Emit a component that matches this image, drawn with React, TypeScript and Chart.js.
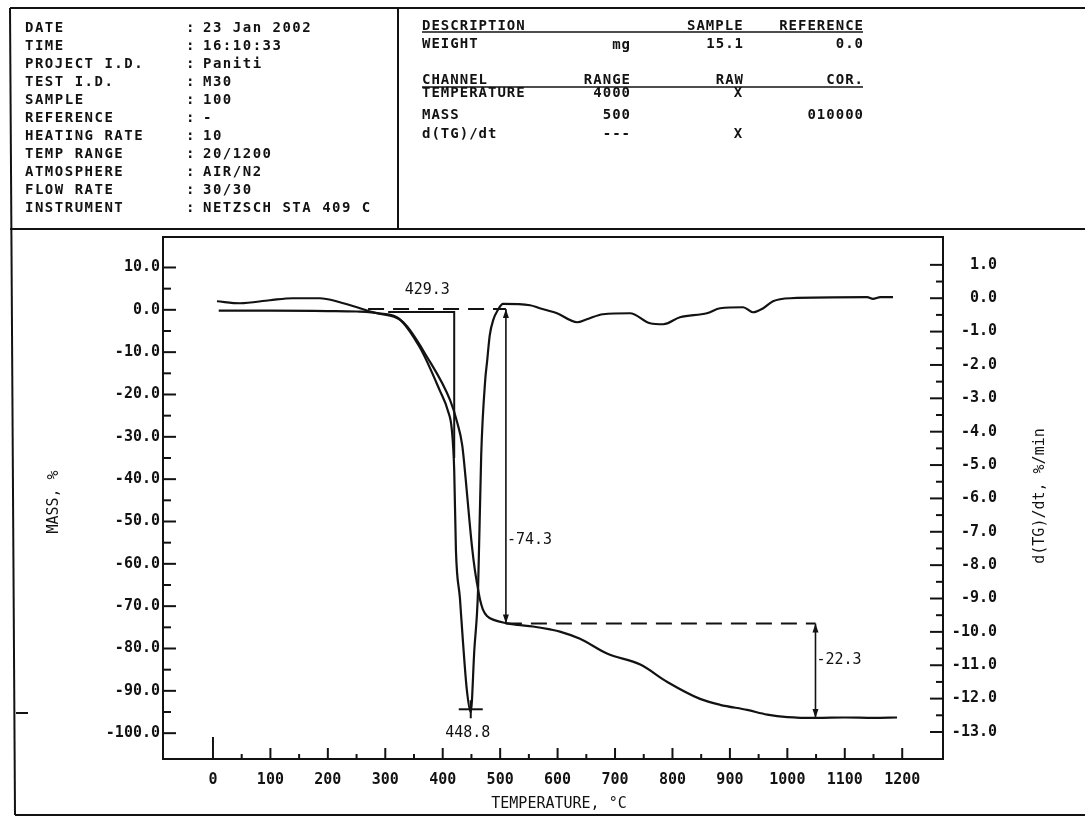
import React, { useEffect, useRef } from 'react';
import { Chart, registerables } from 'chart.js';

Chart.register(...registerables);

const W = 1085;
const H = 816;
const INK = '#121212';
const MONO = '"DejaVu Sans Mono", "Liberation Mono", monospace';

// ---- header texts ----
const infoLabels = ['DATE', 'TIME', 'PROJECT I.D.', 'TEST I.D.', 'SAMPLE', 'REFERENCE', 'HEATING RATE', 'TEMP RANGE', 'ATMOSPHERE', 'FLOW RATE', 'INSTRUMENT'];
const infoValues = ['23 Jan 2002', '16:10:33', 'Paniti', 'M30', '100', '-', '10', '20/1200', 'AIR/N2', '30/30', 'NETZSCH STA 409 C'];
const descHeader = ['DESCRIPTION', 'SAMPLE', 'REFERENCE'];
const weightRow = ['WEIGHT', 'mg', '15.1', '0.0'];
const channelHeader = ['CHANNEL', 'RANGE', 'RAW', 'COR.'];
const channelNames = ['TEMPERATURE', 'MASS', 'd(TG)/dt'];
const channelRanges = ['4000', '500', '---'];
const channelRaw = ['X', '', 'X'];
const channelCor = ['', '010000', ''];

// ---- axes ----
const tempTicks = [0, 100, 200, 300, 400, 500, 600, 700, 800, 900, 1000, 1100, 1200];
const tempMinorTicks = [50, 150, 250, 350, 450, 550, 650, 750, 850, 950, 1050, 1150];
const massTicks = [10, 0, -10, -20, -30, -40, -50, -60, -70, -80, -90, -100];
const massMinorTicks = [5, -5, -15, -25, -35, -45, -55, -65, -75, -85, -95];
const rateTicks = [1, 0, -1, -2, -3, -4, -5, -6, -7, -8, -9, -10, -11, -12, -13];
const rateMinorTicks = [0.5, -0.5, -1.5, -2.5, -3.5, -4.5, -5.5, -6.5, -7.5, -8.5, -9.5, -10.5, -11.5, -12.5];

// ---- series ----
const massTemps = [10, 100, 200, 250, 290, 331, 373, 413, 425, 434, 440, 446, 451, 456, 460, 465, 470, 477, 490, 510, 530, 557, 587, 604, 639, 686, 744, 791, 848, 883, 930, 965, 1000, 1052, 1100, 1150, 1191];
const massValues = [-0.2, -0.2, -0.3, -0.4, -0.9, -2.9, -11.2, -21.4, -26.5, -32.0, -40.0, -49.0, -56.0, -61.5, -64.8, -68.5, -70.8, -72.3, -73.3, -74.0, -74.4, -74.8, -75.5, -76.0, -77.7, -81.2, -83.8, -87.9, -91.9, -93.3, -94.5, -95.6, -96.2, -96.4, -96.3, -96.4, -96.3];

const dtgTemps = [7, 47, 99, 139, 186, 221, 256, 286, 320, 360, 395, 409, 416, 420, 423, 430, 435, 442, 448.8, 455, 461.5, 467, 474, 477, 482, 488, 496, 505, 552, 569, 599, 634, 651, 679, 726, 761, 784, 813, 860, 883, 923, 940, 958, 975, 1005, 1139, 1149, 1162, 1184];
const dtgValues = [-0.09, -0.15, -0.06, 0, 0, -0.12, -0.3, -0.45, -0.57, -1.47, -2.77, -3.37, -3.96, -5.15, -7.55, -9.0, -10.24, -11.74, -12.41, -10.55, -8.75, -4.7, -2.45, -1.94, -1.1, -0.65, -0.35, -0.17, -0.21, -0.3, -0.45, -0.72, -0.63, -0.48, -0.45, -0.75, -0.78, -0.57, -0.45, -0.3, -0.27, -0.42, -0.3, -0.09, 0.0, 0.03, -0.02, 0.03, 0.03];

// ---- evaluation marks ----
const onsetMarkTemps = [305, 420, 420];
const onsetMarkMass = [-0.5, -0.5, -35];
const onsetLabel = '429.3';
const peakTemp = 448.8;
const peakRate = -12.41;
const startLevel = 0.2;
const plateauLevel = -74.1;
const endLevel = -96.4;
const baseDashStart = 270;
const step1Temp = 510;
const step2Temp = 1049;
const step1Value = 74.3;
const step2Value = 22.3;

const pts = (xs: number[], ys: number[]) => xs.map((x, i) => ({ x, y: ys[i] }));

const plotPlugin = {
  id: 'staDecor',
  beforeDraw(chart: any) {
    const ctx = chart.ctx as CanvasRenderingContext2D;
    ctx.save();
    ctx.fillStyle = '#fff';
    ctx.fillRect(0, 0, W, H);
    ctx.strokeStyle = INK;
    const seg = (x1: number, y1: number, x2: number, y2: number) => {
      ctx.beginPath();
      ctx.moveTo(x1, y1);
      ctx.lineTo(x2, y2);
      ctx.stroke();
    };
    ctx.lineWidth = 2;
    seg(10, 8, W, 8);
    seg(10, 8, 15, 815);
    seg(10, 229, W, 229);
    seg(398, 8, 398, 229);
    seg(15, 815, W, 815);
    seg(16, 713, 28, 713);
    ctx.lineWidth = 1.6;
    seg(422, 32, 863, 32);
    seg(422, 87, 863, 87);
    ctx.restore();
  },
  afterDraw(chart: any) {
    const ctx = chart.ctx as CanvasRenderingContext2D;
    const xs = chart.scales.x;
    const ys = chart.scales.y;
    const rs = chart.scales.y1;
    const { left, right, top, bottom } = chart.chartArea;
    ctx.save();
    ctx.strokeStyle = INK;
    ctx.fillStyle = INK;
    ctx.lineWidth = 2;
    const seg = (x1: number, y1: number, x2: number, y2: number) => {
      ctx.beginPath();
      ctx.moveTo(x1, y1);
      ctx.lineTo(x2, y2);
      ctx.stroke();
    };
    ctx.strokeRect(left, top, right - left, bottom - top);

    // inward ticks
    for (const v of massTicks) { const p = ys.getPixelForValue(v); seg(left, p, left + 13, p); }
    for (const v of massMinorTicks) { const p = ys.getPixelForValue(v); seg(left, p, left + 8, p); }
    for (const v of rateTicks) { const p = rs.getPixelForValue(v); seg(right, p, right - 13, p); }
    for (const v of rateMinorTicks) { const p = rs.getPixelForValue(v); seg(right, p, right - 7, p); }
    for (const v of tempTicks) { const p = xs.getPixelForValue(v); seg(p, bottom, p, bottom - (v === 0 ? 22 : 11)); }
    for (const v of tempMinorTicks) { const p = xs.getPixelForValue(v); seg(p, bottom, p, bottom - 5); }

    // arrow heads
    const head = (x: number, y: number, dir: number) => {
      ctx.beginPath();
      ctx.moveTo(x, y);
      ctx.lineTo(x - 3, y - dir * 9);
      ctx.lineTo(x + 3, y - dir * 9);
      ctx.closePath();
      ctx.fill();
    };
    const a1 = xs.getPixelForValue(step1Temp);
    const a2 = xs.getPixelForValue(step2Temp);
    head(a1, ys.getPixelForValue(startLevel), -1);
    head(a1, ys.getPixelForValue(plateauLevel), 1);
    head(a2, ys.getPixelForValue(plateauLevel), -1);
    head(a2, ys.getPixelForValue(endLevel), 1);

    // peak cross
    const px = xs.getPixelForValue(peakTemp);
    const py = rs.getPixelForValue(peakRate);
    seg(px - 12, py - 3, px + 12, py - 3);
    seg(px, py - 12, px, py + 6);

    // annotation texts
    ctx.font = `15px ${MONO}`;
    ctx.textBaseline = 'middle';
    ctx.textAlign = 'center';
    ctx.fillText(onsetLabel, xs.getPixelForValue(373), ys.getPixelForValue(4.7));
    ctx.fillText(peakTemp.toFixed(1), px - 3, py + 21);
    ctx.textAlign = 'left';
    ctx.fillText('-' + step1Value.toFixed(1), a1 + 1, ys.getPixelForValue(-54.4));
    ctx.fillText('-' + step2Value.toFixed(1), a2 + 1, ys.getPixelForValue(-82.8));

    // axis titles
    ctx.textAlign = 'center';
    ctx.fillText('TEMPERATURE, °C', 559, 804);
    ctx.save();
    ctx.translate(54, 502);
    ctx.rotate(-Math.PI / 2);
    ctx.fillText('MASS, %', 0, 0);
    ctx.restore();
    ctx.save();
    ctx.translate(1040, 496);
    ctx.rotate(-Math.PI / 2);
    ctx.fillText('d(TG)/dt, %/min', 0, 0);
    ctx.restore();

    ctx.restore();
  },
};

const tickFont = { family: MONO, size: 15, weight: 'bold' as const };

function HText(props: { x: number; y: number; text: string; align?: 'left' | 'right' | 'center'; spacing?: number }) {
  const { x, y, text, align = 'left', spacing = 1.5 } = props;
  const style: React.CSSProperties = {
    position: 'absolute',
    top: y - 8,
    lineHeight: '16px',
    fontFamily: MONO,
    fontWeight: 'bold',
    fontSize: 14,
    letterSpacing: spacing,
    whiteSpace: 'pre',
    color: INK,
  };
  if (align === 'left') style.left = x;
  else if (align === 'right') style.right = W - x;
  else { style.left = x; style.transform = 'translateX(-50%)'; }
  return <div style={style}>{text}</div>;
}

export default function App() {
  const ref = useRef<HTMLCanvasElement | null>(null);

  useEffect(() => {
    if (!ref.current) return;
    const grid = { display: false, drawTicks: false, tickLength: 0 };
    const chart = new Chart(ref.current, {
      type: 'line',
      data: {
        datasets: [
          { label: 'MASS', data: pts(massTemps, massValues), yAxisID: 'y', borderColor: INK, borderWidth: 2.2, pointRadius: 0, cubicInterpolationMode: 'monotone' },
          { label: 'd(TG)/dt', data: pts(dtgTemps, dtgValues), yAxisID: 'y1', borderColor: INK, borderWidth: 2.2, pointRadius: 0, cubicInterpolationMode: 'monotone' },
          { label: 'onset', data: pts(onsetMarkTemps, onsetMarkMass), yAxisID: 'y', borderColor: INK, borderWidth: 2, pointRadius: 0, tension: 0 },
          { label: 'base', data: pts([baseDashStart, step1Temp], [startLevel, startLevel]), yAxisID: 'y', borderColor: INK, borderWidth: 2, borderDash: [16, 9], pointRadius: 0 },
          { label: 'plateau', data: pts([step1Temp, step2Temp], [plateauLevel, plateauLevel]), yAxisID: 'y', borderColor: INK, borderWidth: 2, borderDash: [16, 9], pointRadius: 0 },
          { label: 'step1', data: pts([step1Temp, step1Temp], [startLevel, plateauLevel]), yAxisID: 'y', borderColor: INK, borderWidth: 1.6, pointRadius: 0 },
          { label: 'step2', data: pts([step2Temp, step2Temp], [plateauLevel, endLevel]), yAxisID: 'y', borderColor: INK, borderWidth: 1.6, pointRadius: 0 },
        ],
      },
      options: {
        responsive: false,
        animation: false,
        devicePixelRatio: 1,
        layout: { padding: { top: 237, left: 0, right: 88, bottom: 0 } },
        plugins: { legend: { display: false }, tooltip: { enabled: false }, title: { display: false } },
        scales: {
          x: {
            type: 'linear',
            min: -87,
            max: 1271,
            grid,
            border: { display: false },
            afterBuildTicks: (s: any) => { s.ticks = tempTicks.map((v) => ({ value: v })); },
            afterFit: (s: any) => { s.height = H - 759; },
            ticks: { font: tickFont, color: INK, padding: 12, maxRotation: 0, autoSkip: false, callback: (v: any) => String(v) },
          },
          y: {
            type: 'linear',
            position: 'left',
            min: -106.1,
            max: 17.2,
            grid,
            border: { display: false },
            afterBuildTicks: (s: any) => { s.ticks = massTicks.map((v) => ({ value: v })); },
            afterFit: (s: any) => { s.width = 163; },
            ticks: { font: tickFont, color: INK, padding: 3, autoSkip: false, callback: (v: any) => Number(v).toFixed(1) },
          },
          y1: {
            type: 'linear',
            position: 'right',
            min: -13.81,
            max: 1.835,
            grid,
            border: { display: false },
            afterBuildTicks: (s: any) => { s.ticks = rateTicks.map((v) => ({ value: v })); },
            afterFit: (s: any) => { s.width = 997 - 943; },
            ticks: { font: tickFont, color: INK, padding: 3, autoSkip: false, crossAlign: 'far', callback: (v: any) => Number(v).toFixed(1) },
          },
        },
      } as any,
      plugins: [plotPlugin],
    });
    return () => chart.destroy();
  }, []);

  const rowY = (i: number) => 27 + 18 * i;

  return (
    <div style={{ position: 'absolute', left: 0, top: 0, width: W, height: H, background: '#fff', overflow: 'hidden' }}>
      <canvas ref={ref} width={W} height={H} style={{ position: 'absolute', left: 0, top: 0, width: W, height: H }} />
      {infoLabels.map((t, i) => <HText key={'l' + i} x={25} y={rowY(i)} text={t} />)}
      {infoLabels.map((_, i) => <HText key={'c' + i} x={186} y={rowY(i)} text=":" />)}
      {infoValues.map((t, i) => <HText key={'v' + i} x={203} y={rowY(i)} text={t} />)}

      <HText x={422} y={25} text={descHeader[0]} spacing={1} />
      <HText x={687} y={25} text={descHeader[1]} spacing={1} />
      <HText x={864} y={25} text={descHeader[2]} align="right" spacing={1} />
      <HText x={422} y={43} text={weightRow[0]} spacing={1} />
      <HText x={631} y={44} text={weightRow[1]} align="right" spacing={1} />
      <HText x={744} y={43} text={weightRow[2]} align="right" spacing={1} />
      <HText x={864} y={43} text={weightRow[3]} align="right" spacing={1} />

      <HText x={422} y={79} text={channelHeader[0]} spacing={1} />
      <HText x={631} y={79} text={channelHeader[1]} align="right" spacing={1} />
      <HText x={744} y={79} text={channelHeader[2]} align="right" spacing={1} />
      <HText x={864} y={79} text={channelHeader[3]} align="right" spacing={1} />
      {channelNames.map((t, i) => <HText key={'cn' + i} x={422} y={[92, 114, 133][i]} text={t} spacing={1} />)}
      {channelRanges.map((t, i) => <HText key={'cr' + i} x={631} y={[92, 114, 133][i]} text={t} align="right" spacing={1} />)}
      {channelRaw.map((t, i) => <HText key={'cw' + i} x={738} y={[92, 114, 133][i]} text={t} align="center" spacing={0} />)}
      {channelCor.map((t, i) => <HText key={'cc' + i} x={864} y={[92, 114, 133][i]} text={t} align="right" spacing={1} />)}
    </div>
  );
}
